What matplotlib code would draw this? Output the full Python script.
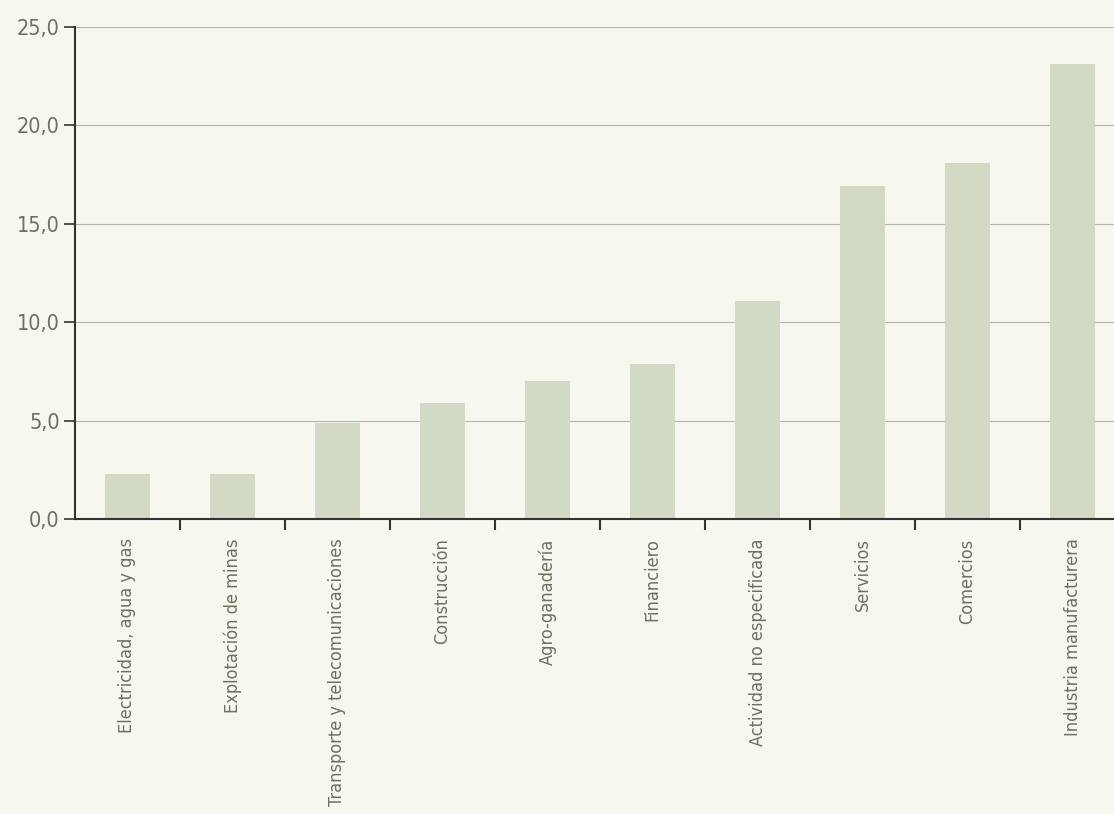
import matplotlib
matplotlib.use("Agg")
import matplotlib.pyplot as plt
from matplotlib.ticker import FuncFormatter, FixedLocator

categorias = ["Electricidad, agua y gas", "Explotación de minas",
              "Transporte y telecomunicaciones", "Construcción", "Agro-ganadería",
              "Financiero", "Actividad no especificada", "Servicios", "Comercios",
              "Industria manufacturera"]
valores = [2.3, 2.3, 4.9, 5.9, 7.0, 7.9, 11.1, 16.9, 18.1, 23.1]
yticks = [0, 5, 10, 15, 20, 25]

plt.rcParams['font.family'] = ['DejaVu Sans']
plt.rcParams['font.stretch'] = 'condensed'

fondo = "#f7f7f0"
texto = "#6b705f"

fig = plt.figure(figsize=(11.14, 8.14), dpi=100, facecolor=fondo)
ax = fig.add_axes([0.0673, 0.3624, 0.9327, 0.6044], facecolor=fondo)

x = range(len(categorias))
ax.bar(x, valores, width=0.43, color="#d2d9c4", zorder=2)

ax.set_ylim(0, 25)
ax.set_xlim(-0.5, 9.395)
ax.set_yticks(yticks)
ax.yaxis.set_major_formatter(FuncFormatter(lambda v, p: f"{v:.1f}".replace(".", ",")))
ax.grid(axis="y", color="#b5b5aa", linewidth=0.8, zorder=1)

# ticks between categories, labels at centres
ax.xaxis.set_major_locator(FixedLocator([i + 0.5 for i in range(len(categorias) - 1)]))
ax.xaxis.set_major_formatter(FuncFormatter(lambda v, p: ""))
ax.xaxis.set_minor_locator(FixedLocator(list(x)))
ax.set_xticklabels(categorias, minor=True, rotation=90, va="top", ha="center")
ax.tick_params(axis="x", which="major", length=8, width=1.5, color="#333333", direction="out")
ax.tick_params(axis="x", which="minor", length=0, pad=14, labelsize=13, labelcolor=texto)
ax.tick_params(axis="y", length=8, width=1.2, color="#333333", labelsize=15.5, labelcolor=texto, pad=3)

for s in ["top", "right"]:
    ax.spines[s].set_visible(False)
ax.spines["left"].set_color("#333333")
ax.spines["left"].set_linewidth(1.5)
ax.spines["bottom"].set_color("#333333")
ax.spines["bottom"].set_linewidth(1.5)

fig.savefig("out.png", dpi=100, facecolor=fondo)
